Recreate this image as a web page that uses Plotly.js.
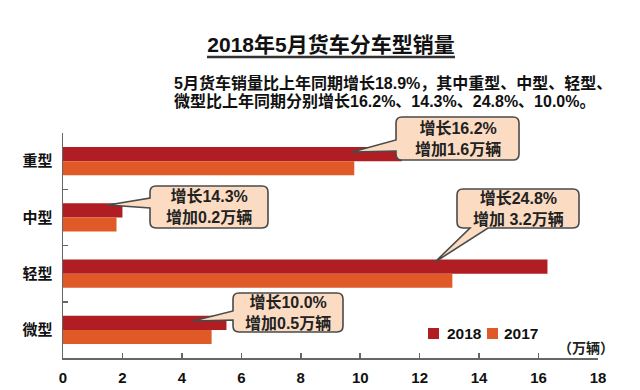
<!DOCTYPE html>
<html>
<head>
<meta charset="utf-8">
<script src="https://cdn.plot.ly/plotly-3.0.1.min.js"></script>
<style>html,body{margin:0;padding:0;background:#fff;}#chart{width:640px;height:390px;}</style>
</head>
<body>
<div id="chart"></div>
<script>
// ---- data ----
const categories = ['重型', '中型', '轻型', '微型'];
const sales2018 = [11.4, 2.0, 16.3, 5.5];
const sales2017 = [9.8, 1.8, 13.1, 5.0];
const growthPct = ['16.2%', '14.3%', '24.8%', '10.0%'];
const increase = ['1.6', '0.2', ' 3.2', '0.5'];
const seriesNames = ['2018', '2017'];
const seriesColors = ['#B01E23', '#E05A28'];
const xTicks = [0, 2, 4, 6, 8, 10, 12, 14, 16, 18];

// ---- layout helpers ----
const W = 640, H = 390;
const M = {l: 63, r: 42, t: 133, b: 32};
const PW = W - M.l - M.r, PH = H - M.t - M.b;
const px = x => (x - M.l) / PW;
const py = y => (H - M.b - y) / PH;
const FONT = 'Liberation Sans, Arial, "Noto Sans CJK SC", sans-serif';

function calloutPath(b, ptr, r) {
  const P = (x, y) => px(x).toFixed(5) + ',' + py(y).toFixed(5);
  let d = 'M' + P(b.x0 + r, b.y0) + ' L' + P(b.x1 - r, b.y0) +
    ' Q' + P(b.x1, b.y0) + ' ' + P(b.x1, b.y0 + r) +
    ' L' + P(b.x1, b.y1 - r) + ' Q' + P(b.x1, b.y1) + ' ' + P(b.x1 - r, b.y1);
  if (ptr.side === 'bottom') {
    d += ' L' + P(ptr.b, b.y1) + ' L' + P(ptr.tx, ptr.ty) + ' L' + P(ptr.a, b.y1);
  }
  d += ' L' + P(b.x0 + r, b.y1) + ' Q' + P(b.x0, b.y1) + ' ' + P(b.x0, b.y1 - r);
  if (ptr.side === 'left') {
    d += ' L' + P(b.x0, ptr.b) + ' L' + P(ptr.tx, ptr.ty) + ' L' + P(b.x0, ptr.a);
  }
  d += ' L' + P(b.x0, b.y0 + r) + ' Q' + P(b.x0, b.y0) + ' ' + P(b.x0 + r, b.y0) + ' Z';
  return d;
}

// callout boxes (pixel geometry) for each category
const boxes = [
  {x0: 396, x1: 519, y0: 117, y1: 160},
  {x0: 150, x1: 268, y0: 186, y1: 228},
  {x0: 457, x1: 579, y0: 189, y1: 228},
  {x0: 233, x1: 343, y0: 293, y1: 332}
];
const pointers = [
  {side: 'left', a: 140, b: 151, tx: 352, ty: 152},
  {side: 'left', a: 198, b: 208, tx: 108, ty: 205},
  {side: 'bottom', a: 470, b: 488, tx: 435, ty: 262},
  {side: 'left', a: 311, b: 320, tx: 193, ty: 321}
];

const shapes = [];
const annotations = [];
boxes.forEach((b, i) => {
  shapes.push({
    type: 'path', xref: 'paper', yref: 'paper',
    path: calloutPath(b, pointers[i], 6),
    fillcolor: '#FBDCC3', line: {color: '#4a4a4a', width: 1.6}, layer: 'above'
  });
  annotations.push({
    xref: 'paper', yref: 'paper', x: px((b.x0 + b.x1) / 2), y: py((b.y0 + b.y1) / 2),
    xanchor: 'center', yanchor: 'middle', showarrow: false, align: 'center',
    text: '增长' + growthPct[i] + '<br>增加' + increase[i] + '万辆',
    font: {family: FONT, size: 16, color: '#222', weight: 'bold'}
  });
});

// title underline
shapes.push({type: 'line', xref: 'paper', yref: 'paper',
  x0: px(207), x1: px(455), y0: py(57), y1: py(57),
  line: {color: '#333', width: 2.5}});

// subtitle lines
annotations.push({xref: 'paper', yref: 'paper', x: px(172), y: py(83), xanchor: 'left', yanchor: 'middle',
  showarrow: false, text: '5月货车销量比上年同期增长18.9%，其中重型、中型、轻型、',
  font: {family: FONT, size: 16, color: '#111', weight: 'bold'}});
annotations.push({xref: 'paper', yref: 'paper', x: px(172), y: py(101), xanchor: 'left', yanchor: 'middle',
  showarrow: false, text: '微型比上年同期分别增长16.2%、14.3%、24.8%、10.0%。',
  font: {family: FONT, size: 16, color: '#111', weight: 'bold'}});
// unit label
annotations.push({xref: 'paper', yref: 'paper', x: px(616), y: py(348), xanchor: 'right', yanchor: 'middle',
  showarrow: false, text: '（万辆）',
  font: {family: FONT, size: 14, color: '#222', weight: 'bold'}});

// manual legend (compact spacing like the reference)
const legendPos = [{sx: 428, tx: 445}, {sx: 487, tx: 502}];
seriesNames.forEach((name, i) => {
  const p = legendPos[i];
  shapes.push({type: 'rect', xref: 'paper', yref: 'paper',
    x0: px(p.sx), x1: px(p.sx + 11), y0: py(328), y1: py(339),
    fillcolor: seriesColors[i], line: {width: 0}});
  annotations.push({xref: 'paper', yref: 'paper', x: px(p.tx), y: py(333.5), xanchor: 'left', yanchor: 'middle',
    showarrow: false, text: name,
    font: {family: FONT, size: 15.5, color: '#111', weight: 'bold'}});
});

const traces = seriesNames.map((name, i) => ({
  type: 'bar', orientation: 'h', name: name, y: categories,
  x: i === 0 ? sales2018 : sales2017,
  marker: {color: seriesColors[i]}, hoverinfo: 'x+name'
}));

const layout = {
  width: W, height: H,
  margin: M,
  paper_bgcolor: '#fff', plot_bgcolor: '#fff',
  barmode: 'group', bargap: 0.5, bargroupgap: 0,
  showlegend: false,
  title: {text: '2018年5月货车分车型销量', xref: 'container', yref: 'container',
    x: 331 / W, y: 1 - 45 / H, xanchor: 'center', yanchor: 'middle',
    font: {family: FONT, size: 21, color: '#111', weight: 'bold'}},
  xaxis: {range: [0, 18], tickvals: xTicks, ticktext: xTicks.map(String),
    showgrid: false, zeroline: false, showline: true, linecolor: '#666', linewidth: 1.5,
    ticks: 'inside', ticklen: 5, tickcolor: '#666', tickwidth: 1.5, ticklabelstandoff: 5,
    tickfont: {family: FONT, size: 15, color: '#111', weight: 'bold'}, fixedrange: true},
  yaxis: {autorange: 'reversed', type: 'category', tickson: 'boundaries',
    showgrid: false, zeroline: false, showline: true, linecolor: '#666', linewidth: 1.5,
    ticks: 'inside', ticklen: 5, tickcolor: '#666', tickwidth: 1.5, ticklabelstandoff: 6,
    tickfont: {family: FONT, size: 15, color: '#111', weight: 'bold'}, fixedrange: true},
  shapes: shapes,
  annotations: annotations
};

Plotly.newPlot('chart', traces, layout, {displayModeBar: false, staticPlot: true});
</script>
</body>
</html>
